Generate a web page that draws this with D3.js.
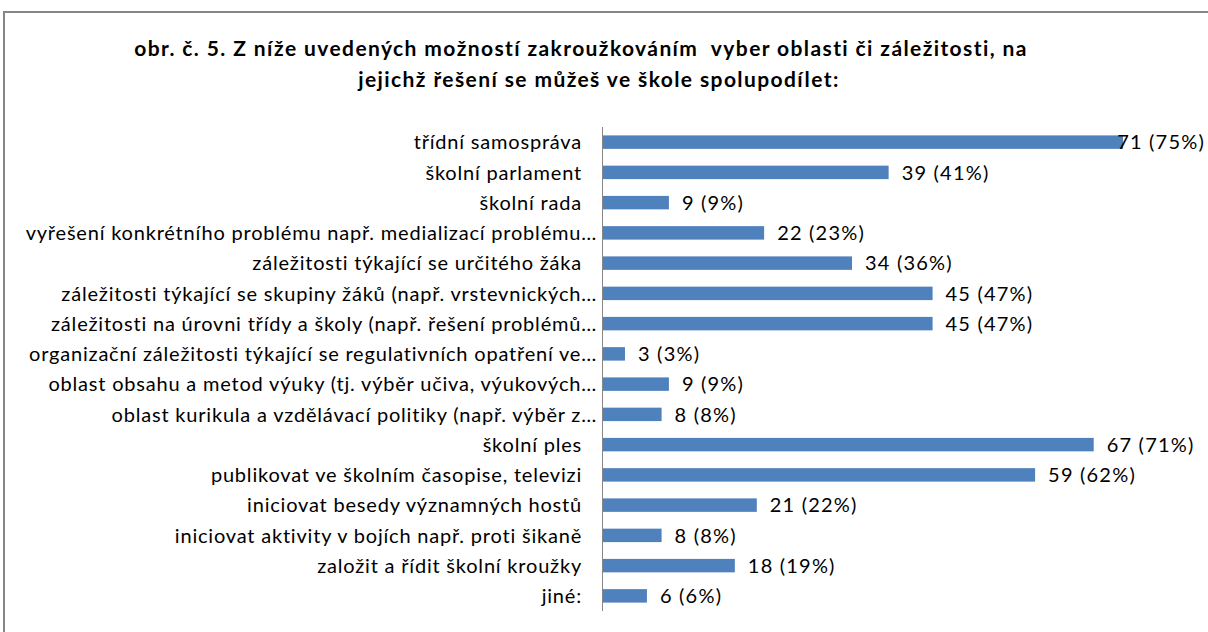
<!DOCTYPE html>
<html>
<head>
<meta charset="utf-8">
<script src="https://cdn.jsdelivr.net/npm/d3@7"></script>
<style>
  html, body { margin: 0; padding: 0; background: #fff; }
  svg { display: block; }
</style>
</head>
<body>
<svg id="chart"></svg>
<script>
(function () {
    const titleLines = [
        "obr. č. 5. Z níže uvedených možností zakroužkováním  vyber oblasti či záležitosti, na",
        "jejichž řešení se můžeš ve škole spolupodílet:"
    ];
    const categories = [
        "třídní samospráva",
        "školní parlament",
        "školní rada",
        "vyřešení konkrétního problému např. medializací problému…",
        "záležitosti týkající se určitého žáka",
        "záležitosti týkající se skupiny žáků (např. vrstevnických…",
        "záležitosti na úrovni třídy a školy (např. řešení problémů…",
        "organizační záležitosti týkající se regulativních opatření ve…",
        "oblast obsahu a metod výuky (tj. výběr učiva, výukových…",
        "oblast kurikula a vzdělávací politiky (např. výběr z…",
        "školní ples",
        "publikovat ve školním časopise, televizi",
        "iniciovat besedy významných hostů",
        "iniciovat aktivity v bojích např. proti šikaně",
        "založit a řídit školní kroužky",
        "jiné:"
    ];
    const counts = [71, 39, 9, 22, 34, 45, 45, 3, 9, 8, 67, 59, 21, 8, 18, 6];
    const percents = [75, 41, 9, 23, 36, 47, 47, 3, 9, 8, 71, 62, 22, 8, 19, 6];

    const W = 1208, H = 632;
    const FONT = "Lato, 'Open Sans', sans-serif";
    const SPACING = "0.8px";

    const svg = d3.select("#chart").attr("width", W).attr("height", H);

    // chart frame (only left and top edges fall inside the picture)
    svg.append("rect")
        .attr("x", 4).attr("y", 12)
        .attr("width", W + 20).attr("height", H + 20)
        .attr("fill", "#fff")
        .attr("stroke", "#868686")
        .attr("stroke-width", 2);

    // first title line carries a trailing space in the original, so it sits a bit left
    svg.append("g").selectAll("text")
        .data(titleLines)
        .join("text")
        .attr("x", (d, i) => i === 0 ? 581 : 599)
        .attr("y", (d, i) => 56 + i * 31)
        .attr("text-anchor", "middle")
        .attr("font-family", FONT)
        .attr("font-weight", "bold")
        .attr("font-size", "21px")
        .attr("letter-spacing", "1.4px")
        .attr("fill", "#000")
        .style("white-space", "pre")
        .text(d => d);

    const x = d3.scaleLinear().domain([0, 71]).range([603, 1123]);
    const y = d3.scaleBand().domain(categories).range([127, 611]).paddingInner(0.555).paddingOuter(0.2775);

    const g = svg.append("g");

    g.selectAll("rect.bar")
        .data(counts)
        .join("rect")
        .attr("class", "bar")
        .attr("x", x(0))
        .attr("y", (d, i) => y(categories[i]))
        .attr("width", d => x(d) - x(0))
        .attr("height", y.bandwidth())
        .attr("fill", "#4F81BD");

    // category axis line
    g.append("line")
        .attr("x1", x(0) - 0.5).attr("x2", x(0) - 0.5)
        .attr("y1", 127).attr("y2", 611)
        .attr("stroke", "#868686")
        .attr("stroke-width", 1);

    g.selectAll("text.cat")
        .data(categories)
        .join("text")
        .attr("class", "cat")
        .attr("x", d => d.endsWith("…") ? 597 : 582)
        .attr("y", d => y(d) + y.bandwidth() / 2)
        .attr("dy", "0.36em")
        .attr("text-anchor", "end")
        .attr("font-family", FONT)
        .attr("font-size", "20px")
        .attr("letter-spacing", SPACING)
        .attr("fill", "#000")
        .text(d => d);

    const vals = g.selectAll("text.val")
        .data(counts)
        .join("text")
        .attr("class", "val")
        .attr("x", d => x(d) + 13)
        .attr("y", (d, i) => y(categories[i]) + y.bandwidth() / 2)
        .attr("dy", "0.36em")
        .attr("font-family", FONT)
        .attr("font-size", "20px")
        .attr("letter-spacing", "1.2px")
        .attr("fill", "#000")
        .text((d, i) => `${d} (${percents[i]}%)`);

    // keep labels inside the chart area, as the original does for the longest bar
    vals.each(function (d) {
        const len = this.getComputedTextLength();
        const left = Math.min(x(d) + 13, W - 3 - len);
        d3.select(this).attr("x", left);
    });
})();
</script>
</body>
</html>
